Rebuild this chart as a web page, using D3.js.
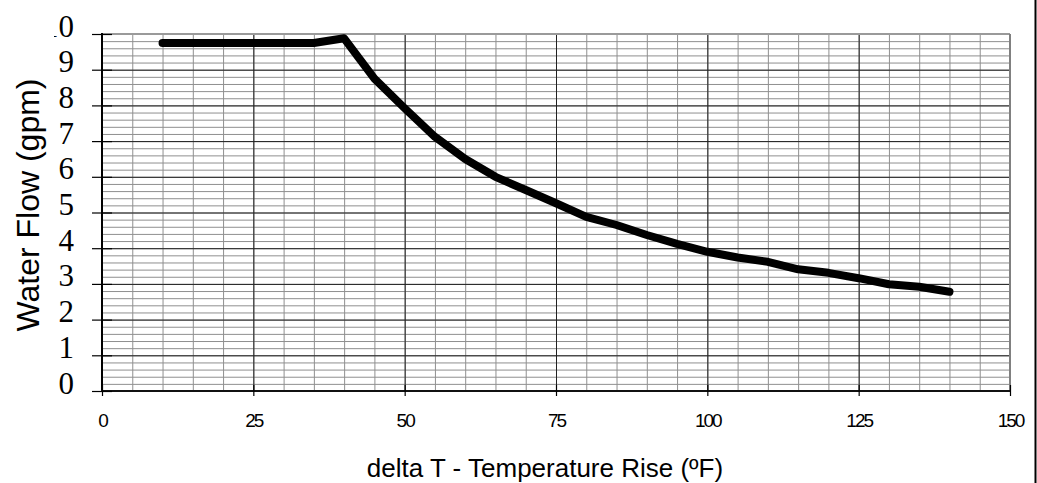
<!DOCTYPE html>
<html>
<head>
<meta charset="utf-8">
<script src="https://cdn.jsdelivr.net/npm/d3@7"></script>
<style>
    html, body { margin: 0; padding: 0; background: #fff; }
    #chartContainer { width: 1037px; height: 483px; }
</style>
</head>
<body>
<div id="chartContainer"></div>
<script>
// curve
const deltaT = [10, 15, 20, 25, 30, 35, 40, 45, 50, 55, 60, 65, 70, 75, 80, 85, 90, 95, 100, 105, 110, 115, 120, 125, 130, 135, 140];
const waterFlow = [9.75, 9.75, 9.75, 9.75, 9.75, 9.75, 9.88, 8.75, 7.92, 7.12, 6.5, 6.0, 5.63, 5.26, 4.88, 4.65, 4.37, 4.12, 3.9, 3.74, 3.62, 3.41, 3.31, 3.16, 2.99, 2.92, 2.78];

const xTicks = [0, 25, 50, 75, 100, 125, 150];
const yTicks = [0, 1, 2, 3, 4, 5, 6, 7, 8, 9, 10];
const xMinorStep = 5;
const yMinorStep = 0.2;

const xTitle = 'delta T - Temperature Rise (ºF)';
const yTitle = 'Water Flow (gpm)';

function makeChart() {
    const width = 1037;
    const height = 483;
    const data = deltaT.map((t, i) => ({ t: t, flow: waterFlow[i] }));
    init(width, height, data);
}

function init(width, height, data) {

    const margin = { top: 34, right: 27, bottom: 92, left: 102 };

    const svg = d3.select('#chartContainer')
        .append('svg')
        .attr('width', width)
        .attr('height', height)
        .style('background', '#fff')
        .style('display', 'block');

    const scX = d3.scaleLinear()
        .domain([0, 150])
        .range([margin.left, width - margin.right]);

    const scY = d3.scaleLinear()
        .domain([0, 10])
        .range([height - margin.bottom, margin.top]);

    const pxX = scX(150) - scX(0);
    const pxY = scY(0) - scY(10);

    //MINOR GRID
    svg.append('g')
        .attr('class', 'minor-grid')
        .attr('transform', `translate(0, ${scY(10)})`)
        .call(d3.axisTop(scX)
            .tickValues(d3.range(0, 150 + 0.01, xMinorStep))
            .tickFormat('')
            .tickSize(-pxY))
        .call(g => g.select('.domain').remove())
        .call(g => g.selectAll('.tick line').attr('stroke', '#8f8f8f'));

    svg.append('g')
        .attr('class', 'minor-grid')
        .attr('transform', `translate(${scX(0)}, 0)`)
        .call(d3.axisLeft(scY)
            .tickValues(d3.range(0, 10 + 0.01, yMinorStep))
            .tickFormat('')
            .tickSize(-pxX))
        .call(g => g.select('.domain').remove())
        .call(g => g.selectAll('.tick line').attr('stroke', '#8f8f8f'));

    //MAIN GRID
    svg.append('g')
        .attr('class', 'main-grid')
        .attr('transform', `translate(0, ${scY(10)})`)
        .call(d3.axisTop(scX)
            .tickValues(xTicks)
            .tickFormat('')
            .tickSize(-pxY))
        .call(g => g.select('.domain').remove())
        .call(g => g.selectAll('.tick line').attr('stroke', '#222'));

    svg.append('g')
        .attr('class', 'main-grid')
        .attr('transform', `translate(${scX(0)}, 0)`)
        .call(d3.axisLeft(scY)
            .tickValues(yTicks)
            .tickFormat('')
            .tickSize(-pxX))
        .call(g => g.select('.domain').remove())
        .call(g => g.selectAll('.tick line').attr('stroke', '#222'));

    // frame: top + right grey, left + bottom black
    svg.append('line')
        .attr('x1', scX(0)).attr('x2', scX(150))
        .attr('y1', scY(10)).attr('y2', scY(10))
        .attr('stroke', '#9a9a9a').attr('stroke-width', 2);
    svg.append('line')
        .attr('x1', scX(150)).attr('x2', scX(150))
        .attr('y1', scY(10)).attr('y2', scY(0))
        .attr('stroke', '#808080').attr('stroke-width', 2);
    svg.append('line')
        .attr('x1', scX(0)).attr('x2', scX(0))
        .attr('y1', scY(10) - 1).attr('y2', scY(0) + 1)
        .attr('stroke', '#000').attr('stroke-width', 2);
    svg.append('line')
        .attr('x1', scX(0) - 1).attr('x2', scX(150) + 1)
        .attr('y1', scY(0)).attr('y2', scY(0))
        .attr('stroke', '#111').attr('stroke-width', 2);

    // X Axis
    const xAxis = d3.axisBottom(scX)
        .tickValues(xTicks)
        .tickSize(5)
        .tickFormat(d3.format('d'));

    svg.append('g')
        .attr('transform', `translate(0, ${scY(0)})`)
        .call(xAxis)
        .call(g => g.select('.domain').remove())
        .call(g => g.selectAll('.tick line').attr('y1', -6).attr('stroke', '#000').attr('stroke-width', 1.2))
        .call(g => g.selectAll('.tick text')
            .attr('y', 36)
            .attr('dy', 0)
            .attr('fill', '#000')
            .style('font-family', "'Liberation Sans', Arial, sans-serif")
            .style('font-size', '19px')
            .style('letter-spacing', '-2px'));

    // Y Axis (left edge clipped like the original, which cuts the "1" of 10)
    svg.append('clipPath')
        .attr('id', 'yLabelClip')
        .append('rect')
        .attr('x', 54).attr('y', 0)
        .attr('width', width - 54).attr('height', height);

    const yAxis = d3.axisLeft(scY)
        .tickValues(yTicks)
        .tickSize(10)
        .tickPadding(18);

    svg.append('g')
        .attr('clip-path', 'url(#yLabelClip)')
        .append('g')
        .attr('transform', `translate(${scX(0)}, 0)`)
        .call(yAxis)
        .call(g => g.select('.domain').remove())
        .call(g => g.selectAll('.tick line').attr('x1', 10).attr('stroke', '#000').attr('stroke-width', 1.2))
        .call(g => g.selectAll('.tick text')
            .attr('dy', 2)
            .attr('fill', '#000')
            .style('font-family', "'Liberation Serif', 'Times New Roman', serif")
            .style('font-size', '31px'));

    // the curve
    const lineMaker = d3.line()
        .x(d => scX(d.t))
        .y(d => scY(d.flow));

    svg.append('path')
        .datum(data)
        .attr('fill', 'none')
        .attr('stroke', '#000')
        .attr('stroke-width', 8)
        .attr('stroke-linejoin', 'round')
        .attr('stroke-linecap', 'round')
        .attr('d', lineMaker);

    // titles
    svg.append('text')
        .attr('x', 545)
        .attr('y', 477)
        .attr('text-anchor', 'middle')
        .style('font-family', "'Liberation Sans', Arial, sans-serif")
        .style('font-size', '26px')
        .text(xTitle);

    svg.append('text')
        .attr('transform', `translate(39, 205) rotate(-90)`)
        .attr('text-anchor', 'middle')
        .style('font-family', "'Liberation Sans', Arial, sans-serif")
        .style('font-size', '32px')
        .text(yTitle);

    // page border line at the right
    svg.append('line')
        .attr('x1', 1035.5).attr('x2', 1035.5)
        .attr('y1', 0).attr('y2', height)
        .attr('stroke', '#000').attr('stroke-width', 2);
}

makeChart();
</script>
</body>
</html>
